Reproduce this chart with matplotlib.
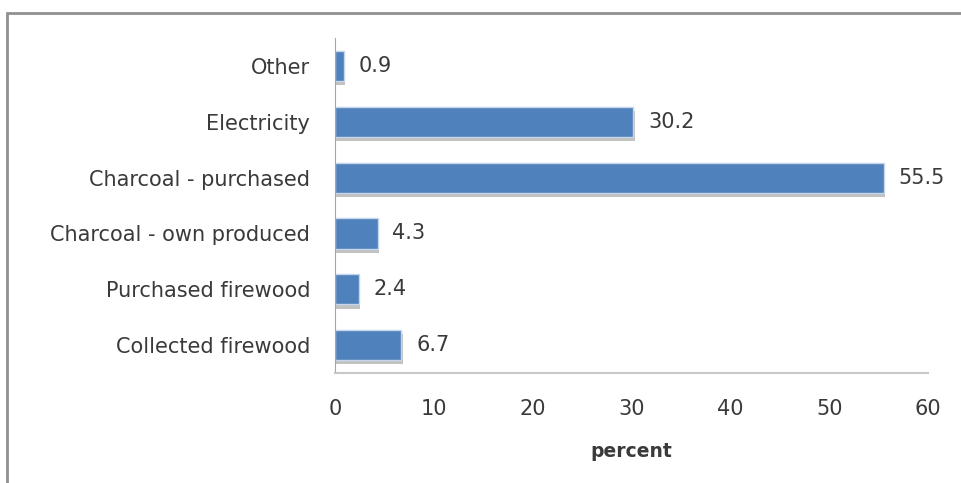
import matplotlib.pyplot as plt
import matplotlib.patheffects as pe
from matplotlib.patches import Rectangle

categories = ["Collected firewood", "Purchased firewood", "Charcoal - own produced",
              "Charcoal - purchased", "Electricity", "Other"]
values = [6.7, 2.4, 4.3, 55.5, 30.2, 0.9]
xticks = [0, 10, 20, 30, 40, 50, 60]

plt.rcParams["font.family"] = ["DejaVu Sans"]
text_col = "#3a3a3a"
fs = 15
fig = plt.figure(figsize=(9.61, 4.83), dpi=100)
ax = fig.add_axes([0.3486, 0.2277, 0.6171, 0.6936])

bars = ax.barh(range(len(categories)), values, height=0.54, color="#4F81BD",
               edgecolor="#C6D6EA", linewidth=1.0)
for b in bars:
    b.set_path_effects([pe.SimplePatchShadow(offset=(1, -3), shadow_rgbFace="#9a9a9a", alpha=0.6),
                        pe.Normal()])

# value labels
for i, v in enumerate(values):
    ax.text(v + 1.5, i, f"{v}", va="center", ha="left", fontsize=fs, color=text_col)

ax.set_xlim(0, 60)
ax.set_ylim(-0.5, 5.5)
ax.set_xticks(xticks)
ax.set_yticks(range(len(categories)))
ax.set_yticklabels(categories)
ax.tick_params(axis="both", length=0, labelsize=fs, colors=text_col)
ax.tick_params(axis="x", pad=19)
ax.tick_params(axis="y", pad=18)
for s in ["top", "right"]:
    ax.spines[s].set_visible(False)
ax.spines["left"].set_color("#A6A6A6")
ax.spines["bottom"].set_color("#C8C8C8")
ax.spines["bottom"].set_linewidth(1.5)
ax.set_xlabel("percent", fontsize=13.5, fontweight="bold", color=text_col, labelpad=16)

# outer border (top and left visible)
fig.patches.append(Rectangle((7 / 961, -0.1), 1.2, 1 - 13 / 483 + 0.1, transform=fig.transFigure,
                             fill=False, edgecolor="#909090", linewidth=2))

fig.savefig("out.png", dpi=100)
